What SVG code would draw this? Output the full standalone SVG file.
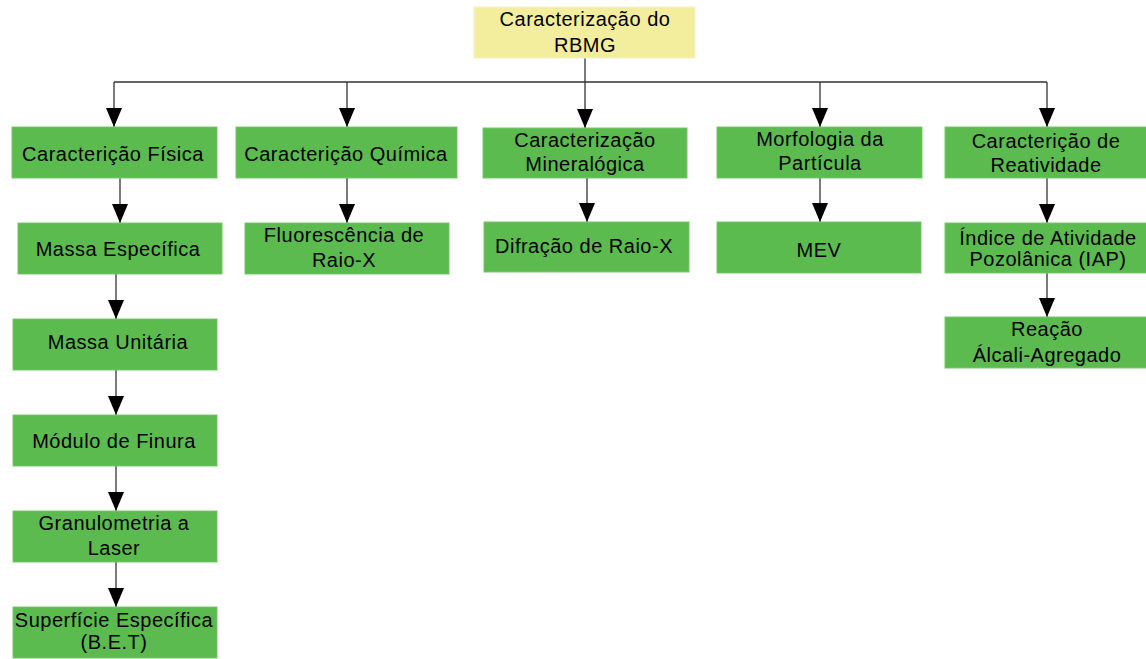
<svg xmlns="http://www.w3.org/2000/svg" width="1146" height="659" viewBox="0 0 1146 659">
<style>
.n{fill:#5BBB4F;stroke:#78C76B;stroke-width:1}
.r{fill:#F2EE9D;stroke:#F6F3C2;stroke-width:1}
text{font-family:"Liberation Sans",Arial,sans-serif;font-size:20px;fill:#000;text-anchor:middle;letter-spacing:0.5px}
.c{fill:none;stroke:#333;stroke-width:1.3}
</style>
<defs>
<marker id="ah" markerUnits="userSpaceOnUse" markerWidth="20" markerHeight="16" refX="19" refY="8" orient="auto">
<path d="M0,0 L19,8 L0,16 Z" fill="#000"/>
</marker>
</defs>
<rect width="1146" height="659" fill="#fff"/>
<g id="connectors">
<path class="c" d="M585,58 V82"/>
<path class="c" d="M114,82 H1047"/>
<path class="c" d="M114,82 V127" marker-end="url(#ah)"/>
<path class="c" d="M347,82 V127" marker-end="url(#ah)"/>
<path class="c" d="M585,82 V128" marker-end="url(#ah)"/>
<path class="c" d="M820,82 V127" marker-end="url(#ah)"/>
<path class="c" d="M1047,82 V127" marker-end="url(#ah)"/>
<path class="c" d="M120,178 V223" marker-end="url(#ah)"/>
<path class="c" d="M116,274 V319" marker-end="url(#ah)"/>
<path class="c" d="M116,370 V415" marker-end="url(#ah)"/>
<path class="c" d="M116,466 V511" marker-end="url(#ah)"/>
<path class="c" d="M116,562 V607" marker-end="url(#ah)"/>
<path class="c" d="M347,178 V223" marker-end="url(#ah)"/>
<path class="c" d="M587,178 V222" marker-end="url(#ah)"/>
<path class="c" d="M820,178 V222" marker-end="url(#ah)"/>
<path class="c" d="M1047,178 V223" marker-end="url(#ah)"/>
<path class="c" d="M1047,273 V317" marker-end="url(#ah)"/>
</g>
<g id="root"><rect class="r" x="474" y="7" width="221" height="51"/><text x="585" y="26">Caracterização do</text><text x="585" y="52">RBMG</text></g>
<g id="fisica"><rect class="n" x="12" y="127" width="205" height="51"/><text x="113" y="161">Caracterição Física</text></g>
<g id="quimica"><rect class="n" x="236" y="127" width="221" height="51"/><text x="346" y="161">Caracterição Química</text></g>
<g id="mineralogica"><rect class="n" x="483" y="128" width="204" height="50"/><text x="585" y="147">Caracterização</text><text x="585" y="171">Mineralógica</text></g>
<g id="morfologia"><rect class="n" x="717" y="127" width="205" height="51"/><text x="820" y="146">Morfologia da</text><text x="820" y="170">Partícula</text></g>
<g id="reatividade"><rect class="n" x="945" y="127" width="202" height="51"/><text x="1046" y="148">Caracterição de</text><text x="1046" y="172">Reatividade</text></g>
<g id="massa-especifica"><rect class="n" x="18" y="223" width="204" height="51"/><text x="118" y="256">Massa Específica</text></g>
<g id="massa-unitaria"><rect class="n" x="13" y="319" width="204" height="51"/><text x="118" y="349">Massa Unitária</text></g>
<g id="modulo-finura"><rect class="n" x="13" y="415" width="204" height="51"/><text x="114" y="448">Módulo de Finura</text></g>
<g id="granulometria"><rect class="n" x="13" y="511" width="204" height="51"/><text x="114" y="530">Granulometria a</text><text x="114" y="555">Laser</text></g>
<g id="superficie"><rect class="n" x="13" y="607" width="204" height="51"/><text x="114" y="627">Superfície Específica</text><text x="114" y="649">(B.E.T)</text></g>
<g id="fluorescencia"><rect class="n" x="245" y="223" width="204" height="51"/><text x="344" y="242">Fluorescência de</text><text x="344" y="267">Raio-X</text></g>
<g id="difracao"><rect class="n" x="484" y="222" width="205" height="50"/><text x="584" y="253">Difração de Raio-X</text></g>
<g id="mev"><rect class="n" x="717" y="222" width="204" height="51"/><text x="819" y="257">MEV</text></g>
<g id="iap"><rect class="n" x="945" y="223" width="202" height="50"/><text x="1048" y="245">Índice de Atividade</text><text x="1048" y="266">Pozolânica (IAP)</text></g>
<g id="rea"><rect class="n" x="945" y="317" width="202" height="51"/><text x="1047" y="336">Reação</text><text x="1047" y="362">Álcali-Agregado</text></g>
</svg>
